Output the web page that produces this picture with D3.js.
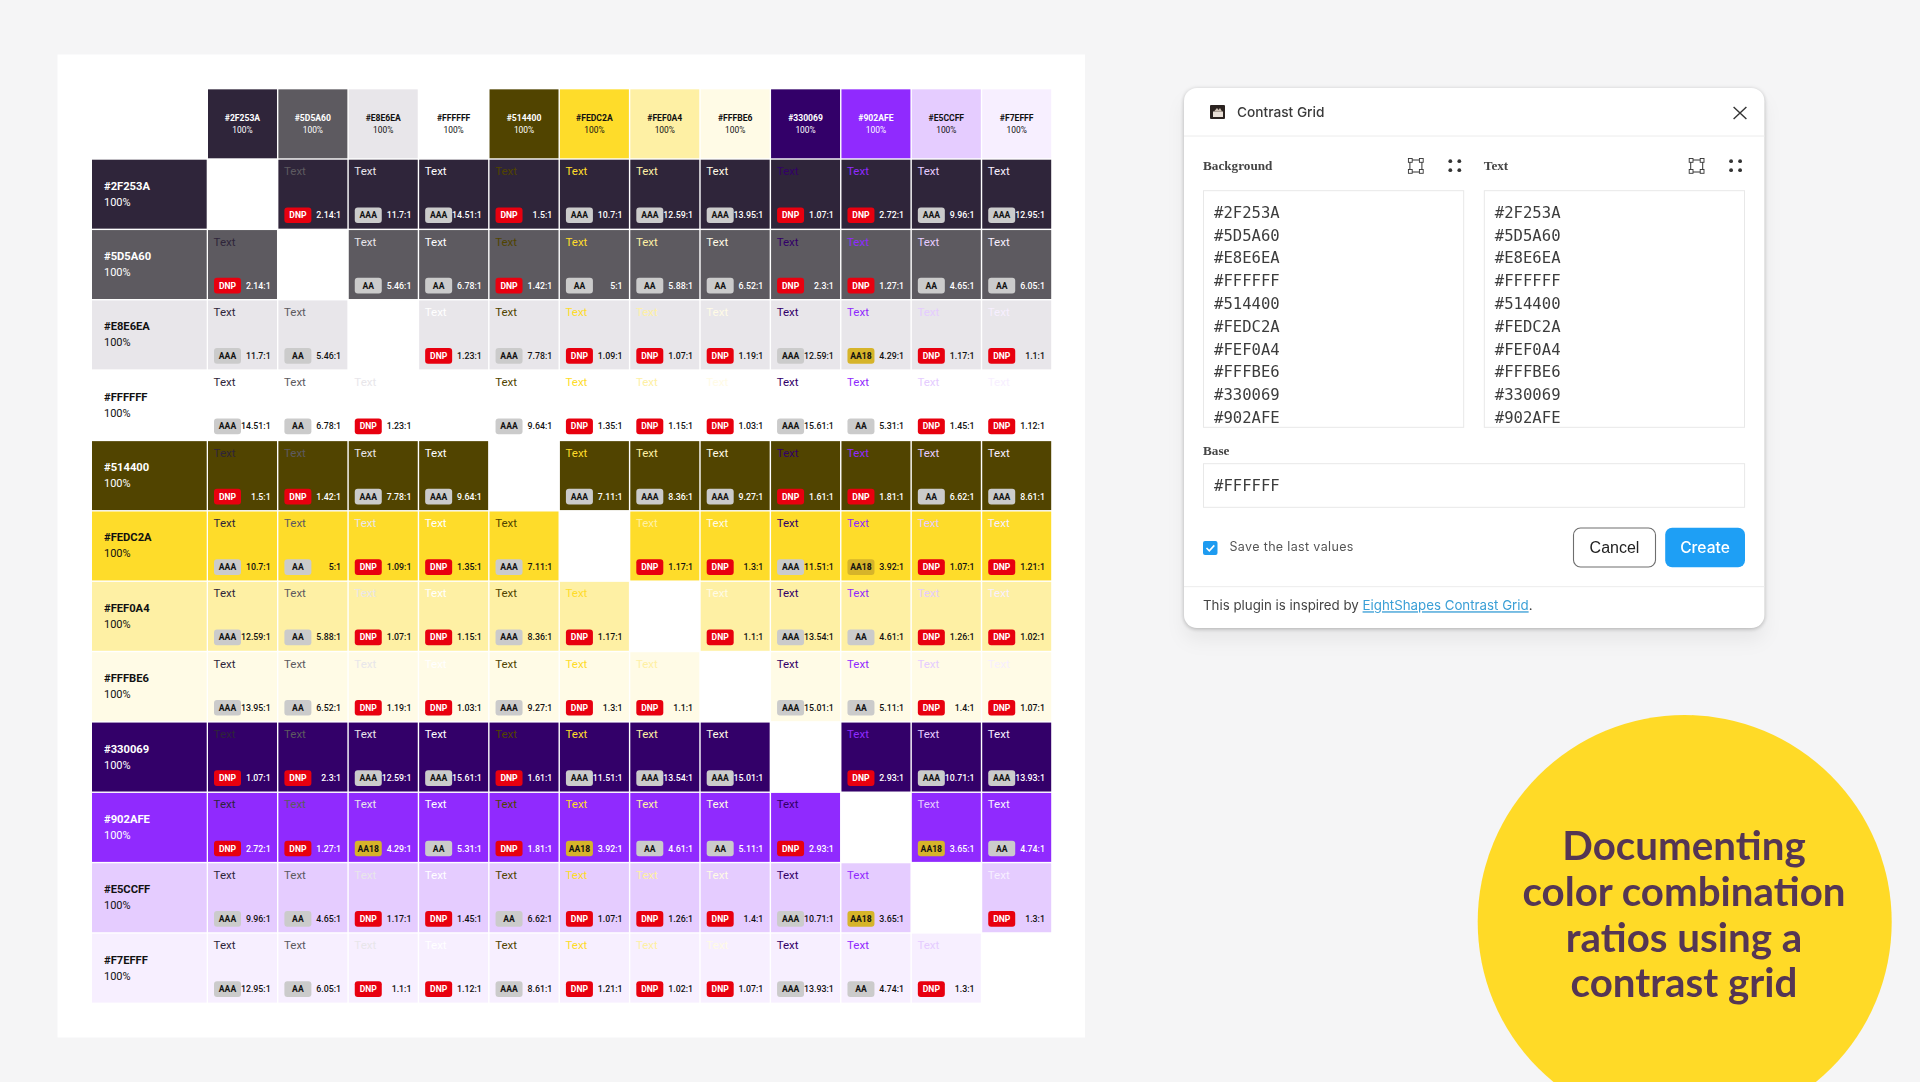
<!DOCTYPE html>
<html>
<head>
<meta charset="utf-8">
<title>Contrast Grid</title>
<script src="https://cdn.jsdelivr.net/npm/d3@7"></script>
<style>
  html, body { margin: 0; padding: 0; background: #f5f5f6; overflow: hidden; }
  svg { display: block; filter: blur(0.35px); }
  text { font-family: Roboto, sans-serif; }
</style>
</head>
<body>
<svg id="chart" width="1920" height="1082"></svg>
<script>
(function () {
  "use strict";

  // data
  var swatches = ["#2F253A", "#5D5A60", "#E8E6EA", "#FFFFFF", "#514400", "#FEDC2A",
                  "#FEF0A4", "#FFFBE6", "#330069", "#902AFE", "#E5CCFF", "#F7EFFF"];
  var darkSwatches = ["#2F253A", "#5D5A60", "#514400", "#330069", "#902AFE"];
  var opacityLabel = "100%";
  var ratios = [
    [null, "2.14", "11.7", "14.51", "1.5", "10.7", "12.59", "13.95", "1.07", "2.72", "9.96", "12.95"],
    ["2.14", null, "5.46", "6.78", "1.42", "5", "5.88", "6.52", "2.3", "1.27", "4.65", "6.05"],
    ["11.7", "5.46", null, "1.23", "7.78", "1.09", "1.07", "1.19", "12.59", "4.29", "1.17", "1.1"],
    ["14.51", "6.78", "1.23", null, "9.64", "1.35", "1.15", "1.03", "15.61", "5.31", "1.45", "1.12"],
    ["1.5", "1.42", "7.78", "9.64", null, "7.11", "8.36", "9.27", "1.61", "1.81", "6.62", "8.61"],
    ["10.7", "5", "1.09", "1.35", "7.11", null, "1.17", "1.3", "11.51", "3.92", "1.07", "1.21"],
    ["12.59", "5.88", "1.07", "1.15", "8.36", "1.17", null, "1.1", "13.54", "4.61", "1.26", "1.02"],
    ["13.95", "6.52", "1.19", "1.03", "9.27", "1.3", "1.1", null, "15.01", "5.11", "1.4", "1.07"],
    ["1.07", "2.3", "12.59", "15.61", "1.61", "11.51", "13.54", "15.01", null, "2.93", "10.71", "13.93"],
    ["2.72", "1.27", "4.29", "5.31", "1.81", "3.92", "4.61", "5.11", "2.93", null, "3.65", "4.74"],
    ["9.96", "4.65", "1.17", "1.45", "6.62", "1.07", "1.26", "1.4", "10.71", "3.65", null, "1.3"],
    ["12.95", "6.05", "1.1", "1.12", "8.61", "1.21", "1.02", "1.07", "13.93", "4.74", "1.3", null]
  ];
  var badgeLabels = ["DNP", "AA18", "AA", "AAA"];
  var badgeLimits = [3, 4.5, 7];
  var badgeFills = ["#E8000F", "#D6B42A", "#CBCBCB", "#CBCBCB"];
  var badgeInks = ["#FFFFFF", "#111111", "#111111", "#111111"];
  var headline = ["Documenting", "color combination", "ratios using a", "contrast grid"];

  var svg = d3.select("#chart");

  var defs = svg.append("defs");
  defs.append("clipPath").attr("id", "boxClip").append("rect")
      .attr("x", 1195).attr("y", 190).attr("width", 560).attr("height", 236.5);

  // ----- grid card
  svg.append("rect").attr("x", 57.5).attr("y", 54.5)
      .attr("width", 1027.5).attr("height", 983).attr("fill", "#fff");

  var x = d3.scaleBand().domain(swatches).range([208, 1051.2]).paddingInner(0.02);
  var y = d3.scaleBand().domain(swatches).range([159.7, 1002.6]).paddingInner(0.02);
  var headerTop = y.range()[0] - y.step();
  var labelLeft = 92;
  var labelWidth = 114.7;
  var rating = d3.scaleThreshold().domain(badgeLimits).range(badgeLabels);
  var badgeFill = d3.scaleOrdinal().domain(badgeLabels).range(badgeFills);
  var badgeInk = d3.scaleOrdinal().domain(badgeLabels).range(badgeInks);

  function inkOn(color) {
    return darkSwatches.indexOf(color) >= 0 ? "#FFFFFF" : "#111111";
  }

  // column headers
  var heads = svg.append("g").selectAll("g").data(swatches).join("g")
      .attr("transform", function (d) { return "translate(" + x(d) + "," + headerTop + ")"; });
  heads.append("rect").attr("width", x.bandwidth()).attr("height", y.bandwidth())
      .attr("fill", function (d) { return d; });
  heads.append("text").text(function (d) { return d; })
      .attr("x", x.bandwidth() / 2).attr("y", 31.3)
      .attr("text-anchor", "middle").attr("font-size", 8.6).attr("font-weight", 700)
      .attr("fill", inkOn);
  heads.append("text").text(opacityLabel)
      .attr("x", x.bandwidth() / 2).attr("y", 44)
      .attr("text-anchor", "middle").attr("font-size", 8.4)
      .attr("fill", inkOn);

  // row headers
  var rows = svg.append("g").selectAll("g").data(swatches).join("g")
      .attr("transform", function (d) { return "translate(" + labelLeft + "," + y(d) + ")"; });
  rows.append("rect").attr("width", labelWidth).attr("height", y.bandwidth())
      .attr("fill", function (d) { return d; });
  rows.append("text").text(function (d) { return d; })
      .attr("x", 12).attr("y", 30)
      .attr("font-size", 11.2).attr("font-weight", 700)
      .attr("fill", inkOn);
  rows.append("text").text(opacityLabel)
      .attr("x", 12).attr("y", 46)
      .attr("font-size", 11)
      .attr("fill", inkOn);

  // cells
  var cellData = [];
  ratios.forEach(function (row, r) {
    row.forEach(function (value, c) {
      if (value !== null) cellData.push({ bg: swatches[r], fg: swatches[c], ratio: value, badge: rating(+value) });
    });
  });
  var cells = svg.append("g").selectAll("g").data(cellData).join("g")
      .attr("transform", function (d) { return "translate(" + x(d.fg) + "," + y(d.bg) + ")"; });
  cells.append("rect").attr("width", x.bandwidth()).attr("height", y.bandwidth())
      .attr("fill", function (d) { return d.bg; });
  cells.append("text").text("Text")
      .attr("x", 5.6).attr("y", 15.5)
      .attr("font-size", 11.5)
      .attr("fill", function (d) { return d.fg; });
  cells.append("rect")
      .attr("x", 6).attr("y", 47.7).attr("width", 27).attr("height", 15.7).attr("rx", 3)
      .attr("fill", function (d) { return badgeFill(d.badge); });
  cells.append("text").text(function (d) { return d.badge; })
      .attr("x", 19.5).attr("y", 58.6)
      .attr("text-anchor", "middle").attr("font-size", 8.6).attr("font-weight", 700)
      .attr("fill", function (d) { return badgeInk(d.badge); });
  cells.append("text").text(function (d) { return d.ratio + ":1"; })
      .attr("x", x.bandwidth() - 6.3).attr("y", 58.6)
      .attr("text-anchor", "end").attr("font-size", 8.8).attr("font-weight", 500)
      .attr("fill", function (d) { return inkOn(d.bg); });

  // ----- plugin dialog
  var dlg = svg.append("g");
  dlg.append("rect").attr("x", 1184).attr("y", 88).attr("width", 580.4).attr("height", 540).attr("rx", 13)
      .attr("fill", "#fff")
      .style("filter", "drop-shadow(0 1.5px 2px rgba(0,0,0,.25)) drop-shadow(0 12px 9px rgba(0,0,0,.055))");
  dlg.selectAll("line.rule").data([136, 586.7]).join("line").attr("class", "rule")
      .attr("x1", 1184).attr("x2", 1764.4)
      .attr("y1", function (d) { return d; }).attr("y2", function (d) { return d; })
      .attr("stroke", "#ececec");

  // title bar
  dlg.append("rect").attr("x", 1210).attr("y", 105).attr("width", 15).attr("height", 14).attr("rx", 1).attr("fill", "#2b2320");
  dlg.append("rect").attr("x", 1213).attr("y", 111.5).attr("width", 10).attr("height", 5.5).attr("fill", "#e9dfd6");
  dlg.append("path").attr("d", "M1214 111.5l3-3.5 1.5 2 1.5-2 2 3.5z").attr("fill", "#cdbfb2");
  dlg.append("text").text("Contrast Grid").attr("x", 1237).attr("y", 117)
      .style("font-family", "Inter, sans-serif")
      .attr("font-size", 13.7).attr("font-weight", 500).attr("fill", "#3a3a3a");
  dlg.append("path").attr("d", "M1733.6 107l12.8 12M1746.4 107l-12.8 12")
      .attr("stroke", "#333").attr("stroke-width", 1.4).attr("fill", "none");

  // swatch list boxes
  var boxes = dlg.selectAll("g.box").data([
    { label: "Background", left: 1203.5 },
    { label: "Text", left: 1484.3 }
  ]).join("g").attr("class", "box");
  boxes.append("text").text(function (d) { return d.label; })
      .attr("x", function (d) { return d.left - 0.5; }).attr("y", 170.3)
      .style("font-family", "'Liberation Serif', serif")
      .attr("font-size", 13.2).attr("font-weight", 700).attr("fill", "#444");
  boxes.append("rect")
      .attr("x", function (d) { return d.left; }).attr("y", 190.7)
      .attr("width", 260.2).attr("height", 236.6)
      .attr("fill", "#fff").attr("stroke", "#e8e8e8");

  var listY = d3.scalePoint().domain(swatches.slice(0, 10)).range([217.7, 423]);
  boxes.each(function (box) {
    var g = d3.select(this);
    g.append("g").attr("clip-path", "url(#boxClip)")
      .selectAll("text").data(swatches.slice(0, 10)).join("text")
      .text(function (d) { return d; })
      .attr("x", box.left + 10.5)
      .attr("y", function (d) { return listY(d); })
      .style("font-family", "'DejaVu Sans Mono', monospace")
      .attr("font-size", 15.6).attr("fill", "#3c3c3c");

    // frame icon
    var ix = box.left + 212.4 - 7, iy = 159;
    g.append("rect").attr("x", ix + 1).attr("y", iy + 1).attr("width", 12).attr("height", 12)
        .attr("fill", "none").attr("stroke", "#333").attr("stroke-width", 1);
    g.selectAll("rect.grip").data([[0, 0], [11, 0], [0, 11], [11, 11]]).join("rect").attr("class", "grip")
        .attr("x", function (d) { return ix + d[0] - 0.5; })
        .attr("y", function (d) { return iy + d[1] - 0.5; })
        .attr("width", 3.8).attr("height", 3.8)
        .attr("fill", "#fff").attr("stroke", "#333").attr("stroke-width", 0.9);

    // dots icon
    g.selectAll("circle").data([[-4.5, -4.5], [4.5, -4.5], [-4.5, 4.5], [4.5, 4.5]]).join("circle")
        .attr("cx", function (d) { return box.left + 251.3 + d[0]; })
        .attr("cy", function (d) { return 165.7 + d[1]; })
        .attr("r", 1.9).attr("fill", "#333");
  });

  // base field
  dlg.append("text").text("Base").attr("x", 1203).attr("y", 454.6)
      .style("font-family", "'Liberation Serif', serif")
      .attr("font-size", 13.2).attr("font-weight", 700).attr("fill", "#444");
  dlg.append("rect").attr("x", 1203.5).attr("y", 463.7).attr("width", 541.1).attr("height", 43.6)
      .attr("fill", "#fff").attr("stroke", "#e8e8e8");
  dlg.append("text").text("#FFFFFF").attr("x", 1214).attr("y", 491)
      .style("font-family", "'DejaVu Sans Mono', monospace")
      .attr("font-size", 15.6).attr("fill", "#3c3c3c");

  // save checkbox
  dlg.append("rect").attr("x", 1203).attr("y", 541).attr("width", 14.5).attr("height", 14).attr("rx", 2).attr("fill", "#1E9BF0");
  dlg.append("path").attr("d", "M1206.5 548l2.8 2.8 5-5.4").attr("fill", "none").attr("stroke", "#fff").attr("stroke-width", 1.6);
  dlg.append("text").text("Save the last values").attr("x", 1229.5).attr("y", 551.3)
      .style("font-family", "Inter, sans-serif").style("letter-spacing", "0.35px")
      .attr("font-size", 12.5).attr("fill", "#555");

  // buttons
  dlg.append("rect").attr("x", 1573.5).attr("y", 528).attr("width", 82).attr("height", 39).attr("rx", 7)
      .attr("fill", "#fff").attr("stroke", "#6e6e6e").attr("stroke-width", 1.1);
  dlg.append("text").text("Cancel").attr("x", 1614.5).attr("y", 553)
      .attr("text-anchor", "middle").style("font-family", "'Liberation Sans', sans-serif")
      .attr("font-size", 16).attr("fill", "#222");
  dlg.append("rect").attr("x", 1665.2).attr("y", 527.7).attr("width", 79.8).attr("height", 39.6).attr("rx", 7)
      .attr("fill", "#1E9FF5");
  dlg.append("text").text("Create").attr("x", 1705).attr("y", 553)
      .attr("text-anchor", "middle").style("font-family", "Inter, sans-serif")
      .attr("font-size", 15.6).attr("font-weight", 500).attr("fill", "#fff");

  // footer
  var foot = dlg.append("text").attr("x", 1203).attr("y", 610.3)
      .style("font-family", "Inter, sans-serif")
      .attr("font-size", 13.3).attr("fill", "#444");
  foot.append("tspan").text("This plugin is inspired by ");
  foot.append("tspan").text("EightShapes Contrast Grid")
      .attr("fill", "#3A9FD6").attr("text-decoration", "underline");
  foot.append("tspan").text(".");

  // ----- yellow callout
  svg.append("circle").attr("cx", 1684.7).attr("cy", 922).attr("r", 207).attr("fill", "#FFDA27");
  var lineY = d3.scalePoint().domain(headline).range([860, 997.4]);
  svg.append("g").selectAll("text").data(headline).join("text")
      .text(function (d) { return d; })
      .attr("x", 1684).attr("y", function (d) { return lineY(d); })
      .attr("text-anchor", "middle")
      .style("font-family", "Lato, sans-serif")
      .attr("font-size", 40.3).attr("font-weight", 700).attr("fill", "#553654");
}());
</script>
</body>
</html>
